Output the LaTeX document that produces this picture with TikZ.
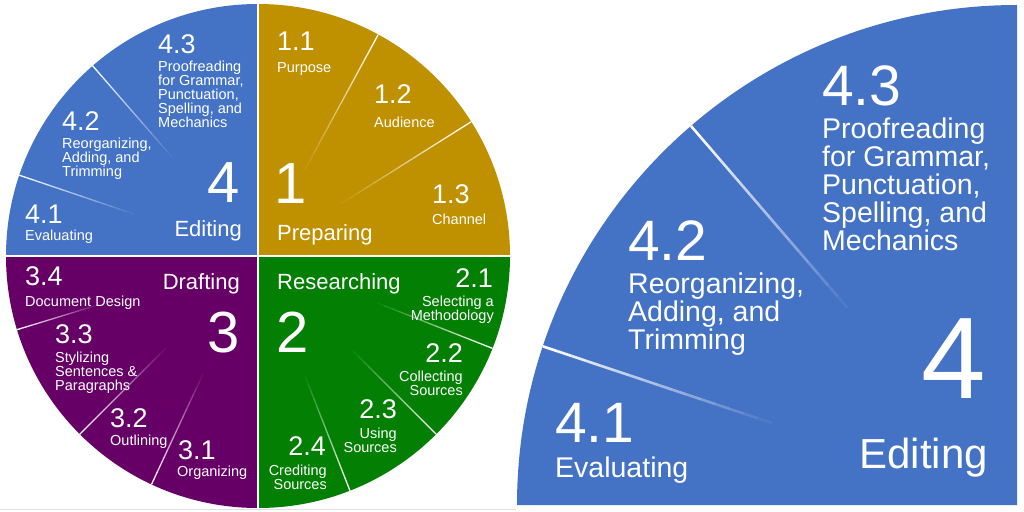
\documentclass[tikz,border=0pt]{standalone}
\usepackage{fontspec}
\setmainfont{Liberation Sans}
\definecolor{edblue}{HTML}{4472C4}
\definecolor{prgold}{HTML}{BF9000}
\definecolor{rsgreen}{HTML}{038003}
\definecolor{drpurple}{HTML}{660066}
\newcommand{\fadediv}[6]{%
  \foreach \i [evaluate=\i as \op using (\i+1)/16,
               evaluate=\i as \ra using #4+(#3-#4)*\i/16,
               evaluate=\i as \rb using #4+(#3-#4)*(\i+1)/16] in {0,...,15}{%
    \draw[white, line width=#6, opacity=\op]
      ({#1+\ra*cos(#5)},{#2-\ra*sin(#5)}) -- ({#1+\rb*cos(#5)},{#2-\rb*sin(#5)});
  }%
}
\tikzset{
  txt/.style={text=white, inner sep=0pt, anchor=base west},
  num/.style={txt, font=\fontsize{27}{27}\selectfont},
  lab/.style={txt, align=left, font=\fontsize{14.5}{14.2}\selectfont},
  labr/.style={lab, align=right, anchor=base east},
  big/.style={txt, font=\fontsize{58}{58}\selectfont},
  ttl/.style={txt, font=\fontsize{22}{22}\selectfont},
  numR/.style={txt, font=\fontsize{57}{57}\selectfont},
  labR/.style={txt, align=left, font=\fontsize{28.5}{28}\selectfont},
  bigR/.style={txt, font=\fontsize{116}{116}\selectfont},
  ttlR/.style={txt, font=\fontsize{42}{42}\selectfont},
}
\begin{document}
\begin{tikzpicture}[x=1pt,y=-1pt]
\useasboundingbox (0,0) rectangle (1024,511);
\fill[white] (0,0) rectangle (1024,511);
% ---- left pie ----
\coordinate (L) at (258,256);
\fill[prgold] (L) -- ++(0:252) arc[start angle=0, end angle=-90, radius=252] -- cycle;
\fill[edblue] (L) -- ++(-90:252) arc[start angle=-90, end angle=-180, radius=252] -- cycle;
\fill[drpurple] (L) -- ++(-180:252) arc[start angle=-180, end angle=-270, radius=252] -- cycle;
\fill[rsgreen] (L) -- ++(-270:252) arc[start angle=-270, end angle=-360, radius=252] -- cycle;
\coordinate (Lw) at (4,256); \coordinate (Le) at (512,256);
\coordinate (Ln) at (258,2); \coordinate (Ls) at (258,510);
\draw[white, line width=2pt] (Lw) -- (Le);
\draw[white, line width=2pt] (Ln) -- (Ls);
% sub dividers
\fadediv{258}{256}{252}{131}{131}{1.3pt}
\fadediv{258}{256}{252}{131}{161.3}{1.3pt}
\fadediv{258}{256}{252}{98}{61.5}{1.3pt}
\fadediv{258}{256}{252}{98}{32.2}{1.3pt}
\fadediv{258}{256}{252}{166}{197}{1.3pt}
\fadediv{258}{256}{252}{131}{225}{1.3pt}
\fadediv{258}{256}{252}{131}{245}{1.3pt}
\fadediv{258}{256}{252}{130}{291.4}{1.3pt}
\fadediv{258}{256}{252}{134}{315}{1.3pt}
\fadediv{258}{256}{252}{128}{338.5}{1.3pt}
\coordinate (G1) at (0,509.5); \coordinate (G2) at (516,509.5);
\draw[black!12, line width=1.5pt] (G1) -- (G2);
% Preparing
\node[num] (n11) at (277,50) {1.1};
\node[lab] (l11) at (277,72) {Purpose};
\node[num] (n12) at (374,103) {1.2};
\node[lab] (l12) at (374,127) {Audience};
\node[num] (n13) at (432,203) {1.3};
\node[lab] (l13) at (432,224) {Channel};
\node[big] (b1) at (274,203) {1};
\node[ttl] (t1) at (277,240) {Preparing};
% Editing
\node[num] (n43) at (158,53) {4.3};
\node[lab] (l43) at (158,127.8) {Proofreading\\for Grammar,\\Punctuation,\\Spelling, and\\Mechanics};
\node[num] (n42) at (62,130) {4.2};
\node[lab] (l42) at (62,176.4) {Reorganizing,\\Adding, and\\Trimming};
\node[big, anchor=base east] (b4) at (240,202) {4};
\node[ttl, anchor=base east] (t4) at (242,236) {Editing};
\node[num] (n41) at (25,223) {4.1};
\node[lab] (l41) at (25,240) {Evaluating};
% Drafting
\node[num] (n34) at (25,285) {3.4};
\node[lab] (l34) at (25,306) {Document Design};
\node[ttl, anchor=base east] (t3) at (240,289) {Drafting};
\node[big, anchor=base east] (b3) at (240,352) {3};
\node[num] (n33) at (55,343) {3.3};
\node[lab] (l33) at (55,390.4) {Stylizing\\Sentences \&\\Paragraphs};
\node[num] (n32) at (110,427) {3.2};
\node[lab] (l32) at (110,445) {Outlining};
\node[num] (n31) at (178,459) {3.1};
\node[lab] (l31) at (177,476) {Organizing};
% Researching
\node[ttl] (t2) at (277,289) {Researching};
\node[big] (b2) at (276,352) {2};
\node[num, anchor=base east] (n21) at (493,287) {2.1};
\node[labr] (l21) at (494,320.2) {Selecting a\\Methodology};
\node[num, anchor=base east] (n22) at (463,362) {2.2};
\node[labr] (l22) at (463,395.2) {Collecting\\Sources};
\node[num, anchor=base east] (n23) at (397,418) {2.3};
\node[labr] (l23) at (397,452.2) {Using\\Sources};
\node[num, anchor=base east] (n24) at (326,455) {2.4};
\node[labr] (l24) at (327,489.2) {Crediting\\Sources};
% ---- right quarter ----
\coordinate (R) at (1017,505);
\fill[edblue] (R) -- ++(-180:500) arc[start angle=-180, end angle=-90, radius=500] -- cycle;
\fadediv{1017}{505}{500}{260}{130.7}{2.6pt}
\fadediv{1017}{505}{500}{258}{161.5}{2.6pt}
\node[numR] (m43) at (822,105) {4.3};
\node[labR] (k43) at (822,250) {Proofreading\\for Grammar,\\Punctuation,\\Spelling, and\\Mechanics};
\node[numR] (m42) at (628,260) {4.2};
\node[labR] (k42) at (628,349) {Reorganizing,\\Adding, and\\Trimming};
\node[bigR, anchor=base east] (c4) at (986,398) {4};
\node[ttlR, anchor=base east] (s4) at (988,468) {Editing};
\node[numR] (m41) at (555,442) {4.1};
\node[labR] (k41) at (555,477) {Evaluating};
\end{tikzpicture}
\end{document}
